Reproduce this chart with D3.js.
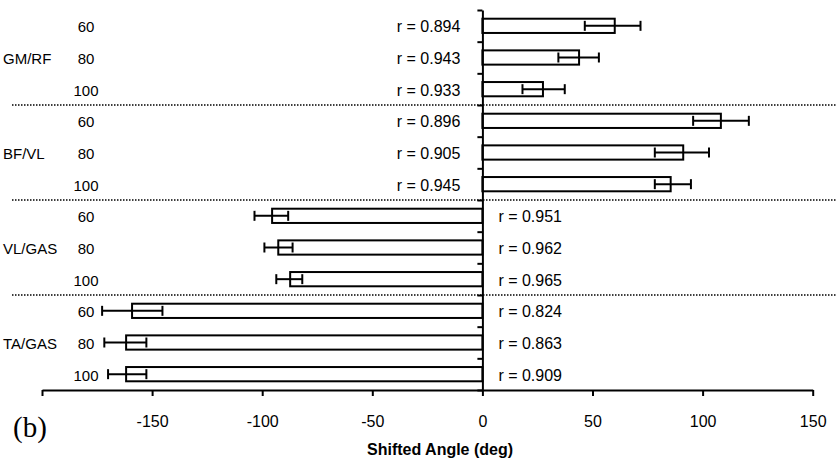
<!DOCTYPE html>
<html>
<head>
<meta charset="utf-8">
<script src="https://cdn.jsdelivr.net/npm/d3@7"></script>
<style>
  body { margin: 0; background: #fff; }
  text { font-family: "Liberation Sans", Arial, sans-serif; fill: #000; }
</style>
</head>
<body>
<svg id="chart" width="837" height="468"></svg>
<script>
// Groups and speeds, top to bottom
const groups = ["GM/RF", "BF/VL", "VL/GAS", "TA/GAS"];
const speeds = ["60", "80", "100"];

// Shifted angle means and error-bar ends (deg), one per row
const means = [60.1, 43.9, 27.5, 108.3, 91.2, 85.5, -95.5, -92.7, -87.3, -159.1, -161.8, -161.8];
const errLow = [46.5, 34.5, 18.2, 95.7, 78.3, 78.3, -103.5, -99, -93.6, -172.7, -171.7, -170];
const errHigh = [71.8, 52.9, 37.4, 121, 102.9, 94.7, -88.2, -86.2, -81.8, -145.3, -152.6, -152.6];
const rValues = ["0.894", "0.943", "0.933", "0.896", "0.905", "0.945",
  "0.951", "0.962", "0.965", "0.824", "0.863", "0.909"];

const xTicks = [-200, -150, -100, -50, 0, 50, 100, 150];

// Build row records
const rows = [];
groups.forEach((g, gi) => {
  speeds.forEach((s, si) => {
    const i = gi * 3 + si;
    rows.push({ i: i, group: g, speed: s, mean: means[i], lo: errLow[i], hi: errHigh[i], r: rValues[i] });
  });
});

const svg = d3.select("#chart");

const x = d3.scaleLinear().domain([-200, 150]).range([42, 812.7]);
const y = d3.scaleBand().domain(rows.map((d) => d.i)).range([10, 390])
  .paddingInner(0.55).paddingOuter(0.275);
const yEdge = d3.scaleLinear().domain([0, rows.length]).range([10, 390]);

// Dotted group separators
svg.append("g")
  .selectAll("line")
  .data([3, 6, 9])
  .enter()
  .append("line")
  .attr("x1", 12)
  .attr("x2", 836)
  .attr("y1", (d) => yEdge(d))
  .attr("y2", (d) => yEdge(d))
  .attr("stroke", "#000")
  .attr("stroke-width", 1.5)
  .attr("stroke-dasharray", "1.5,1.5");

// Bars
svg.append("g")
  .selectAll("rect")
  .data(rows)
  .enter()
  .append("rect")
  .attr("x", (d) => Math.min(x(0), x(d.mean)))
  .attr("width", (d) => Math.abs(x(d.mean) - x(0)))
  .attr("y", (d) => y(d.i))
  .attr("height", y.bandwidth())
  .attr("fill", "#fff")
  .attr("stroke", "#000")
  .attr("stroke-width", 2);

// Error bars
const err = svg.append("g").attr("stroke", "#000").attr("stroke-width", 2);
const cy = (d) => y(d.i) + y.bandwidth() / 2;
err.selectAll("line.whisker")
  .data(rows)
  .enter()
  .append("line")
  .attr("class", "whisker")
  .attr("x1", (d) => x(d.lo))
  .attr("x2", (d) => x(d.hi))
  .attr("y1", cy)
  .attr("y2", cy);
err.selectAll("line.capLo")
  .data(rows)
  .enter()
  .append("line")
  .attr("class", "capLo")
  .attr("x1", (d) => x(d.lo))
  .attr("x2", (d) => x(d.lo))
  .attr("y1", (d) => cy(d) - 5)
  .attr("y2", (d) => cy(d) + 5);
err.selectAll("line.capHi")
  .data(rows)
  .enter()
  .append("line")
  .attr("class", "capHi")
  .attr("x1", (d) => x(d.hi))
  .attr("x2", (d) => x(d.hi))
  .attr("y1", (d) => cy(d) - 5)
  .attr("y2", (d) => cy(d) + 5);

// Vertical axis at zero with row boundary ticks
const yAxis = svg.append("g")
  .attr("transform", `translate(${x(0)},0)`)
  .call(d3.axisLeft(yEdge).tickValues(d3.range(0, rows.length + 1)).tickFormat("").tickSize(5).tickSizeOuter(0));
yAxis.selectAll("path, line").attr("stroke", "#000").attr("stroke-width", 2);

// Bottom axis
const xAxis = svg.append("g")
  .attr("transform", "translate(0,390)")
  .call(d3.axisBottom(x).tickValues(xTicks).tickFormat((d) => (d === -200 ? "" : d)).tickSize(6).tickSizeOuter(0).tickPadding(20));
xAxis.selectAll("path, line").attr("stroke", "#000").attr("stroke-width", 2);
xAxis.selectAll("text")
  .attr("font-family", "Liberation Sans, Arial, sans-serif")
  .attr("font-size", 16)
  .attr("fill", "#000");

// Axis title
svg.append("text")
  .attr("x", 367)
  .attr("y", 455)
  .attr("font-size", 16)
  .attr("font-weight", "bold")
  .text("Shifted Angle (deg)");

// Panel label
svg.append("text")
  .attr("x", 13)
  .attr("y", 437)
  .style("font-family", "'Liberation Serif', 'Times New Roman', serif")
  .attr("font-size", 29)
  .text("(b)");

// Speed labels
svg.append("g")
  .selectAll("text")
  .data(rows)
  .enter()
  .append("text")
  .attr("x", 86)
  .attr("y", (d) => cy(d) + 1)
  .attr("text-anchor", "middle")
  .attr("dominant-baseline", "central")
  .attr("font-size", 15)
  .text((d) => d.speed);

// Group labels
svg.append("g")
  .selectAll("text")
  .data(groups)
  .enter()
  .append("text")
  .attr("x", 3)
  .attr("y", (d, gi) => cy(rows[gi * 3 + 1]) + 1)
  .attr("dominant-baseline", "central")
  .attr("font-size", 15)
  .text((d) => d);

// Correlation labels
svg.append("g")
  .selectAll("text")
  .data(rows)
  .enter()
  .append("text")
  .attr("x", (d) => (d.mean >= 0 ? x(0) - 22 : x(0) + 16))
  .attr("y", (d) => cy(d) + 1)
  .attr("text-anchor", (d) => (d.mean >= 0 ? "end" : "start"))
  .attr("dominant-baseline", "central")
  .attr("font-size", 16)
  .text((d) => "r = " + d.r);
</script>
</body>
</html>
